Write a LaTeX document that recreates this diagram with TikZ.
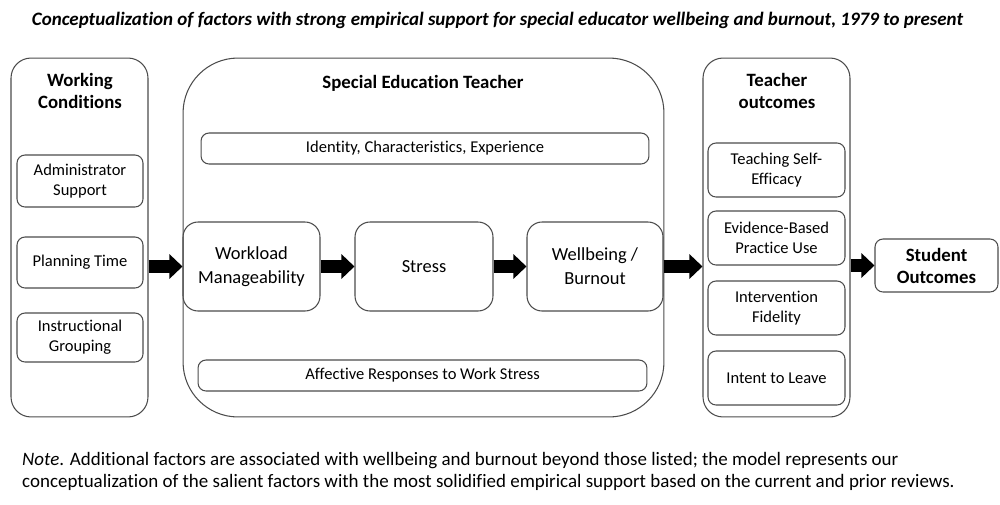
\documentclass[tikz,border=0pt]{standalone}
\usepackage{fontspec}
\setmainfont[Ligatures=NoCommon]{Carlito}
\usepackage{tikz}
\usetikzlibrary{arrows.meta,positioning}
\tikzstyle{group} = [draw=black!70, line width=0.6pt, rounded corners=0.4cm, inner sep=0pt]
\tikzstyle{item} = [draw=black!70, line width=0.6pt, rounded corners=0.16cm, align=center, inner sep=0pt, minimum width=2.52cm, font=\fontsize{9.4}{11.3}\selectfont]
\tikzstyle{stage} = [draw=black!70, line width=0.6pt, rounded corners=0.3cm, align=center, inner sep=0pt, minimum width=2.74cm, minimum height=1.78cm, font=\fontsize{10.5}{13.6}\selectfont]
\tikzstyle{head} = [align=center, font=\bfseries\fontsize{10.7}{12.5}\selectfont]
\tikzstyle{bigarrow} = [line width=7.4pt, -{Triangle[length=7.4pt,width=13.6pt]}]

\begin{document}
\begin{tikzpicture}[x=0.02cm, y=-0.02cm]
                    \useasboundingbox (0,0) rectangle (1000,504);
                    \node (title) at (497.5,20) {\fontsize{10.8}{12}\selectfont\bfseries\itshape Conceptualization of factors with strong empirical support for special educator wellbeing and burnout, 1979 to present};
                    \node [group, minimum width=2.74cm, minimum height=7.18cm] (wc) at (79.5,237.5) {};
                    \node [head] (wctitle) at (80,91) {Working\\Conditions};
                    \node [item, minimum height=1.04cm] (admin) at (80,181) {Administrator\\Support};
                    \node [item, minimum height=1.02cm] (plan) at (80,262.5) {Planning Time};
                    \node [item, minimum height=0.98cm] (grouping) at (80,337.5) {Instructional\\Grouping};
                    \node [group, rounded corners=1.1cm, minimum width=9.62cm, minimum height=7.18cm] (set) at (423.5,237.5) {};
                    \node [head] (settitle) at (423,83) {Special Education Teacher};
                    \node [item, minimum width=8.96cm, minimum height=0.62cm] (identity) at (425,148.5) {Identity, Characteristics, Experience};
                    \node [stage] (workload) at (251.5,266.5) {Workload\\Manageability};
                    \node [stage, minimum width=2.76cm] (stress) at (424,266.5) {Stress};
                    \node [stage, minimum width=2.72cm] (wellbeing) at (595,266.5) {Wellbeing /\\Burnout};
                    \node [item, minimum width=8.98cm, minimum height=0.62cm] (affective) at (422.5,375.5) {Affective Responses to Work Stress};
                    \node [group, minimum width=2.94cm, minimum height=7.18cm] (to) at (776.5,237.5) {};
                    \node [head] (totitle) at (777,91) {Teacher\\outcomes};
                    \node [item, minimum width=2.74cm, minimum height=1.08cm] (efficacy) at (776.5,170) {Teaching Self-\\Efficacy};
                    \node [item, minimum width=2.74cm, minimum height=1.08cm] (ebp) at (776.5,238) {Evidence-Based\\Practice Use};
                    \node [item, minimum width=2.74cm, minimum height=1.08cm] (fidelity) at (776.5,308) {Intervention\\Fidelity};
                    \node [item, minimum width=2.74cm, minimum height=1.08cm] (intent) at (776.5,378) {Intent to Leave};
                    \node [item, head, minimum width=2.46cm, minimum height=1.06cm] (student) at (936.5,265.5) {Student\\Outcomes};
                    \draw [bigarrow] (wc.east |- workload) -- (workload.west);
                    \draw [bigarrow] (workload) -- (stress);
                    \draw [bigarrow] (stress) -- (wellbeing);
                    \draw [bigarrow] (wellbeing.east) -- (to.west |- wellbeing);
                    \draw [bigarrow] (to.east |- student) -- (student.west);
                    \node [right, align=left, font=\fontsize{10.8}{12.5}\selectfont] (note) at (16,471) {\textit{Note}. Additional factors are associated with wellbeing and burnout beyond those listed; the model represents our\\conceptualization of the salient factors with the most solidified empirical support based on the current and prior reviews.};
                \end{tikzpicture}
\end{document}
